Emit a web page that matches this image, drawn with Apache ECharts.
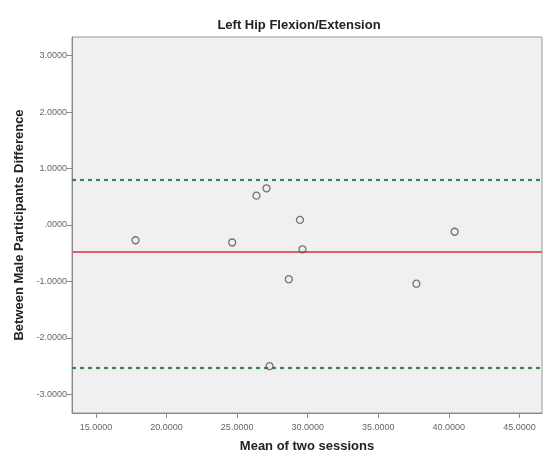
<!DOCTYPE html>
<html><head><meta charset="utf-8">
<script src="https://cdn.jsdelivr.net/npm/echarts@6/dist/echarts.min.js"></script>
<style>html,body{margin:0;padding:0;background:#fff}#c{width:543px;height:455px}</style>
</head><body><div id="c"></div>
<script>
const meanValues = [17.8, 24.65, 26.37, 27.08, 29.45, 29.63, 28.66, 40.41, 37.7, 27.3];
const diffValues = [-0.27, -0.31, 0.52, 0.65, 0.09, -0.43, -0.96, -0.12, -1.04, -2.5];
const meanDiff = -0.48;
const upperLimit = 0.80;
const lowerLimit = -2.52;
const xTicks = [15, 20, 25, 30, 35, 40, 45];
const yTicks = [-3, -2, -1, 0, 1, 2, 3];

const fmtY = v => { const s = Math.abs(v).toFixed(4); const t = s.startsWith('0') ? s.slice(1) : s; return (v < 0 ? '-' : '') + t; };
const fmtX = v => v.toFixed(4);

const chart = echarts.init(document.getElementById('c'));
const labelFont = { fontFamily: 'Liberation Sans, Arial', fontSize: 9, color: '#666' };
const nameFont = { fontFamily: 'Liberation Sans, Arial', fontSize: 13, fontWeight: 'bold', color: '#222' };
chart.setOption({
  animation: false,
  backgroundColor: '#fff',
  title: { text: 'Left Hip Flexion/Extension', left: 294, top: 14, textAlign: 'center',
    textStyle: { fontFamily: 'Liberation Sans, Arial', fontSize: 13, fontWeight: 'bold', color: '#222' } },
  grid: { left: 72, right: 1, top: 37, bottom: 42, outerBoundsMode: 'none', containLabel: false,
    show: true, backgroundColor: '#f0f0f0', borderColor: '#9a9a9a', borderWidth: 1 },
  xAxis: {
    type: 'value', min: 13.3, max: 46.6,
    name: 'Mean of two sessions', nameLocation: 'middle', nameGap: 27,
    nameTextStyle: nameFont,
    splitLine: { show: false },
    axisLine: { show: true, onZero: false, lineStyle: { color: '#888' } },
    axisTick: { show: true, length: 5, lineStyle: { color: '#888' }, customValues: xTicks },
    axisLabel: Object.assign({ customValues: xTicks, formatter: fmtX, margin: 10 }, labelFont)
  },
  yAxis: {
    type: 'value', min: -3.33, max: 3.33,
    name: 'Between Male Participants Difference', nameLocation: 'middle', nameGap: 43, nameRotate: 90,
    nameTextStyle: nameFont,
    splitLine: { show: false },
    axisLine: { show: true, onZero: false, lineStyle: { color: '#888' } },
    axisTick: { show: true, length: 5, lineStyle: { color: '#888' }, customValues: yTicks },
    axisLabel: Object.assign({ customValues: yTicks, formatter: fmtY, margin: 5 }, labelFont)
  },
  series: [{
    type: 'scatter',
    data: meanValues.map((m, i) => [m, diffValues[i]]),
    symbol: 'circle', symbolSize: 7,
    itemStyle: { color: 'rgba(0,0,0,0)', borderColor: '#555', borderWidth: 1.3 },
    z: 5,
    markLine: {
      silent: true, symbol: 'none', label: { show: false }, animation: false,
      data: [
        { yAxis: upperLimit, lineStyle: { color: '#2f8a4c', type: [4, 4], width: 2.2 } },
        { yAxis: meanDiff, lineStyle: { color: '#e0606e', type: 'solid', width: 2 } },
        { yAxis: lowerLimit, lineStyle: { color: '#2f8a4c', type: [4, 4], width: 2.2 } }
      ]
    }
  }]
});
</script></body></html>
